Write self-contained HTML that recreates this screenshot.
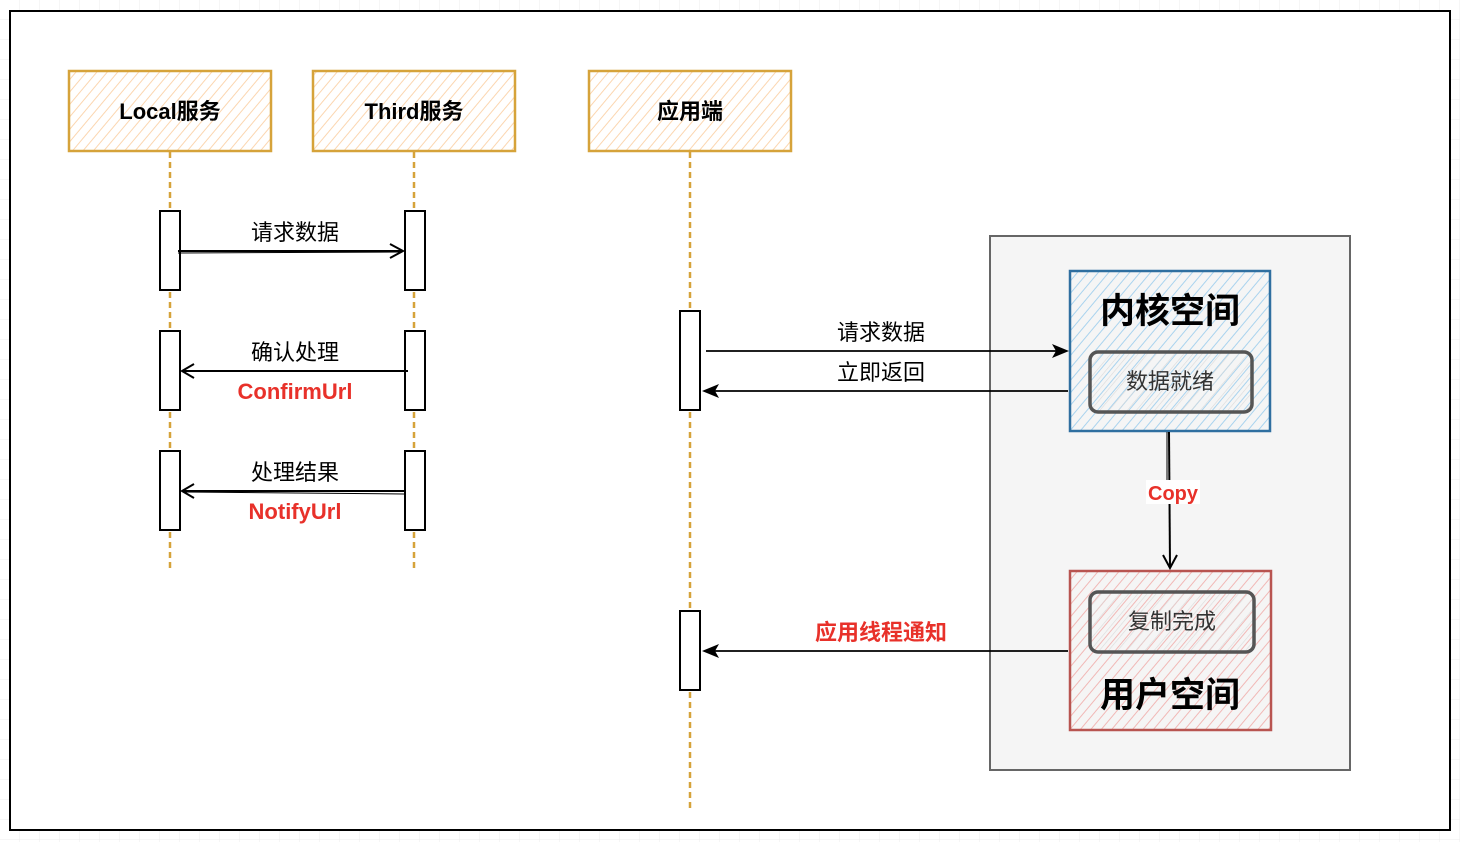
<!DOCTYPE html>
<html><head><meta charset="utf-8"><style>
html,body{margin:0;padding:0;background:#fff;}
svg{display:block;}
text{font-family:"Liberation Sans","Noto Sans CJK SC",sans-serif;}
</style></head><body>
<svg width="1460" height="842" viewBox="0 0 1460 842" xmlns="http://www.w3.org/2000/svg">
<defs>
<pattern id="grid" width="20" height="20" patternUnits="userSpaceOnUse"><path d="M20 0V20H0" fill="none" stroke="#ececec" stroke-width="1"/></pattern>
<pattern id="ho" width="8" height="8" patternUnits="userSpaceOnUse" patternTransform="rotate(40)"><line x1="0" y1="0" x2="0" y2="8" stroke="#fbd6b0" stroke-width="2"/></pattern>
<pattern id="hb" width="8" height="8" patternUnits="userSpaceOnUse" patternTransform="rotate(40)"><line x1="0" y1="0" x2="0" y2="8" stroke="#a9d3ee" stroke-width="2"/></pattern>
<pattern id="hr" width="8" height="8" patternUnits="userSpaceOnUse" patternTransform="rotate(40)"><line x1="0" y1="0" x2="0" y2="8" stroke="#f1b8b6" stroke-width="2"/></pattern>
<pattern id="hg" width="7" height="7" patternUnits="userSpaceOnUse" patternTransform="rotate(40)"><line x1="0" y1="0" x2="0" y2="7" stroke="#dadada" stroke-width="1.2"/></pattern>
</defs>
<rect width="1460" height="842" fill="url(#grid)"/>
<rect x="10" y="11" width="1440" height="819" fill="#fff" stroke="#000" stroke-width="2"/>

<g stroke="#d6a33a" stroke-width="2.5">
<rect x="69" y="71" width="202" height="80" fill="url(#ho)"/>
<rect x="313" y="71" width="202" height="80" fill="url(#ho)"/>
<rect x="589" y="71" width="202" height="80" fill="url(#ho)"/>
</g>
<g font-weight="bold" font-size="22" text-anchor="middle" fill="#000">
<text x="170" y="119">Local服务</text>
<text x="414" y="119">Third服务</text>
<text x="690" y="119">应用端</text>
</g>
<g stroke="#d6a33a" stroke-width="2.5" stroke-dasharray="6,4" fill="none">
<line x1="170" y1="152" x2="170" y2="570"/>
<line x1="414" y1="152" x2="414" y2="568"/>
<line x1="690" y1="152" x2="690" y2="810"/>
</g>
<g fill="#fff" stroke="#000" stroke-width="2">
<rect x="160" y="211" width="20" height="79"/>
<rect x="160" y="331" width="20" height="79"/>
<rect x="160" y="451" width="20" height="79"/>
<rect x="405" y="211" width="20" height="79"/>
<rect x="405" y="331" width="20" height="79"/>
<rect x="405" y="451" width="20" height="79"/>
<rect x="680" y="311" width="20" height="99"/>
<rect x="680" y="611" width="20" height="79"/>
</g>
<g stroke="#000" stroke-width="2" fill="none">
<line x1="178" y1="251" x2="403" y2="251"/><line x1="178" y1="253" x2="400" y2="252" stroke-width="1"/>
<path d="M390 244 L403 251 L390 258"/>
<line x1="182" y1="371" x2="408" y2="371"/>
<path d="M194 364 L182 371 L194 378"/>
<line x1="182" y1="491" x2="404" y2="491"/><line x1="185" y1="492" x2="404" y2="494" stroke-width="1"/>
<path d="M194 484 L182 491 L194 498"/>
</g>
<g font-size="22" text-anchor="middle" fill="#000">
<text x="295" y="240">请求数据</text>
<text x="295" y="360">确认处理</text>
<text x="295" y="480">处理结果</text>
</g>
<g font-size="22" font-weight="bold" text-anchor="middle" fill="#e8312a">
<text x="295" y="399">ConfirmUrl</text>
<text x="295" y="519">NotifyUrl</text>
</g>

<rect x="990" y="236" width="360" height="534" fill="#f5f5f5" stroke="#666" stroke-width="2"/>
<rect x="1070" y="271" width="200" height="160" fill="url(#hb)" stroke="#2f6fa0" stroke-width="2.5"/>
<rect x="1070" y="571" width="201" height="159" fill="url(#hr)" stroke="#b85450" stroke-width="2.5"/>
<rect x="1090" y="352" width="162" height="60" rx="8" fill="url(#hg)" stroke="#555" stroke-width="3.5"/>
<rect x="1090" y="592" width="164" height="60" rx="8" fill="url(#hg)" stroke="#555" stroke-width="3.5"/>
<g text-anchor="middle">
<text x="1170" y="323" font-size="35" font-weight="bold">内核空间</text>
<text x="1170" y="389" font-size="22" fill="#333">数据就绪</text>
<text x="1172" y="629" font-size="22" fill="#333">复制完成</text>
<text x="1170" y="707" font-size="35" font-weight="bold">用户空间</text>
</g>
<g stroke="#000" stroke-width="2" fill="none">
<line x1="1169" y1="432" x2="1170" y2="567"/>
<line x1="1167" y1="432" x2="1167" y2="500" stroke-width="1"/>
<path d="M1163 555 L1170 568 L1177 555"/>
</g>
<rect x="1146" y="480" width="54" height="24" fill="#fff"/>
<text x="1173" y="500" font-size="20" font-weight="bold" fill="#e8312a" text-anchor="middle">Copy</text>

<g stroke="#000" stroke-width="1.8" fill="none">
<line x1="706" y1="351" x2="1060" y2="351"/>
<line x1="1068" y1="391" x2="712" y2="391"/>
<line x1="1068" y1="651" x2="712" y2="651"/>
</g>
<g fill="#000">
<path d="M1069 351 L1052 344 L1056 351 L1052 358Z"/>
<path d="M702 391 L719 384 L715 391 L719 398Z"/>
<path d="M702 651 L719 644 L715 651 L719 658Z"/>
</g>
<g font-size="22" text-anchor="middle">
<text x="881" y="340">请求数据</text>
<text x="881" y="380">立即返回</text>
<text x="881" y="640" fill="#e8312a" font-weight="bold">应用线程通知</text>
</g>
</svg>
</body></html>
